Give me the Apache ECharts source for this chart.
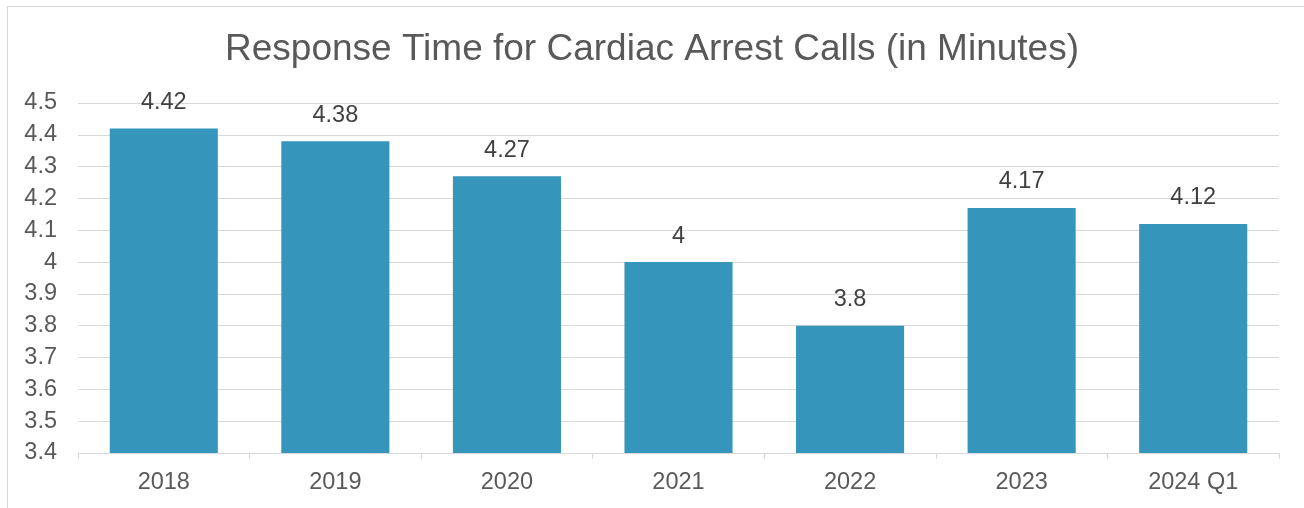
<!DOCTYPE html>
<html>
<head>
<meta charset="utf-8">
<script src="https://cdn.jsdelivr.net/npm/echarts@6/dist/echarts.min.js"></script>
<style>
  html, body { margin: 0; padding: 0; background: #fff; }
  #frame { position: absolute; left: 7px; top: 6px; width: 1310px; height: 520px; border: 1px solid #d9d9d9; box-sizing: border-box; }
  #chart { position: absolute; left: 0; top: 0; width: 1304px; height: 508px; }
</style>
</head>
<body>
<div id="frame"></div>
<div id="chart"></div>
<script>
var categories = ['2018', '2019', '2020', '2021', '2022', '2023', '2024 Q1'];
var responseMinutes = [4.42, 4.38, 4.27, 4, 3.8, 4.17, 4.12];

var dom = document.getElementById('chart');
var myChart = echarts.init(dom);
var option = {
    animation: false,
    title: {
        text: 'Response Time for Cardiac Arrest Calls (in Minutes)',
        left: 'center',
        top: 26,
        textStyle: {
            fontFamily: 'Liberation Sans',
            fontSize: 37,
            fontWeight: 'normal',
            color: '#595959'
        }
    },
    grid: {
        left: 78,
        right: 25,
        top: 103,
        bottom: 55
    },
    xAxis: {
        type: 'category',
        data: categories,
        axisLine: { lineStyle: { color: '#d9d9d9', width: 1 } },
        axisTick: { show: true, length: 6, lineStyle: { color: '#d9d9d9' } },
        axisLabel: {
            margin: 18,
            fontFamily: 'Liberation Sans',
            fontSize: 23.5,
            color: '#595959'
        }
    },
    yAxis: {
        type: 'value',
        min: 3.4,
        max: 4.5,
        interval: 0.1,
        axisLine: { show: false },
        axisTick: { show: false },
        splitLine: { lineStyle: { color: '#d9d9d9', width: 1 } },
        axisLabel: {
            margin: 21,
            fontFamily: 'Liberation Sans',
            fontSize: 23.5,
            color: '#595959',
            formatter: function(v) { return String(Math.round(v * 10) / 10); }
        }
    },
    series: [{
        type: 'bar',
        data: responseMinutes,
        barCategoryGap: '37%',
        itemStyle: { color: '#3595bb' },
        label: {
            show: true,
            position: 'top',
            distance: 14,
            fontFamily: 'Liberation Sans',
            fontSize: 23.5,
            color: '#404040'
        }
    }]
};
myChart.setOption(option, true);
</script>
</body>
</html>
